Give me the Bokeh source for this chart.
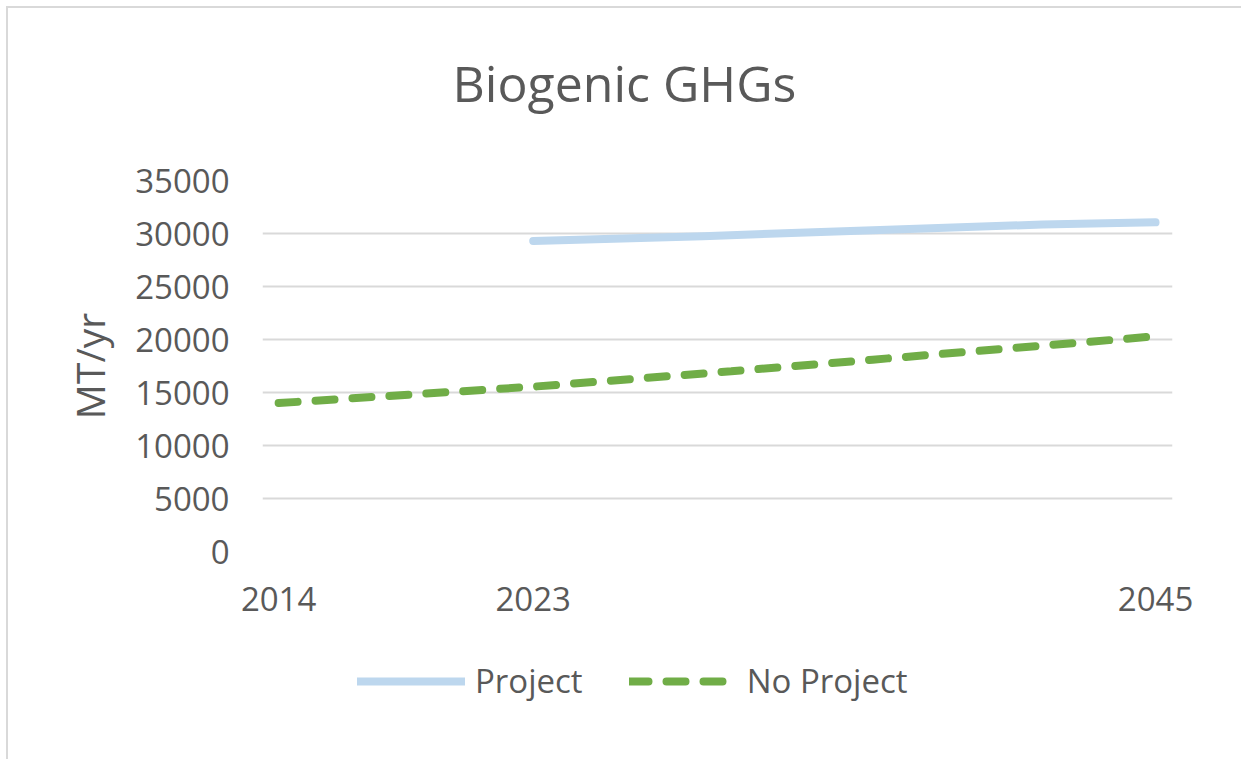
from bokeh.plotting import figure
from bokeh.models import FixedTicker, Legend, LegendItem, Range1d, Div
from bokeh.layouts import column
from bokeh.embed import file_html
from bokeh.resources import INLINE

# data
project_years = [2023, 2029, 2035, 2041, 2045]
project_vals = [29300, 29750, 30300, 30850, 31050]
noproj_years = [2014, 2023, 2030, 2035, 2040, 2045]
noproj_vals = [14000, 15550, 17000, 18100, 19200, 20300]
x_ticks = [2014, 2023, 2045]
y_ticks = [0, 5000, 10000, 15000, 20000, 25000, 30000, 35000]
series_names = ["Project", "No Project"]
chart_title = "Biogenic GHGs"

FONT = "Open Sans"
GREY = "#595959"
BLUE = "#bdd7ee"
GREEN = "#70ad47"
DASH = "19 18"

W = 1233
TITLE_H = 110
MAIN_H = 512
LEG_H = 119

title_div = Div(text=('<div style="font-family:\'Open Sans\';font-size:50px;color:%s;'
                      'text-align:center;line-height:50px;padding-top:45px;width:%dpx;">%s</div>'
                      % (GREY, W - 10, chart_title)),
                width=W - 10, height=TITLE_H)

p = figure(width=W, height=MAIN_H, output_backend="svg", toolbar_location=None,
           x_range=Range1d(2013.43, 2045.6), y_range=Range1d(0, 35000),
           min_border_left=254, min_border_right=69, min_border_top=52, min_border_bottom=89)
p.outline_line_color = None
p.background_fill_color = "white"
p.border_fill_color = "white"

p.xgrid.visible = False
p.ygrid.grid_line_color = "#d9d9d9"
p.ygrid.grid_line_width = 2
p.ygrid.ticker = FixedTicker(ticks=y_ticks)

p.xaxis.ticker = FixedTicker(ticks=x_ticks)
p.yaxis.ticker = FixedTicker(ticks=y_ticks)
for ax in (p.xaxis[0], p.yaxis[0]):
    ax.axis_line_color = None
    ax.major_tick_line_color = None
    ax.minor_tick_line_color = None
    ax.major_tick_in = 0
    ax.major_tick_out = 0
    ax.major_label_text_font = FONT
    ax.major_label_text_font_size = "33px"
    ax.major_label_text_color = GREY
p.xaxis.major_label_standoff = 35
p.yaxis.major_label_standoff = 33
p.yaxis.axis_label = "MT/yr"
p.yaxis.axis_label_text_font = FONT
p.yaxis.axis_label_text_font_size = "39px"
p.yaxis.axis_label_text_font_style = "normal"
p.yaxis.axis_label_text_color = GREY
p.yaxis.axis_label_standoff = 16

p.line(project_years, project_vals, line_color=BLUE, line_width=8,
       line_cap="round", line_join="round")
p.line(noproj_years, noproj_vals, line_color=GREEN, line_width=8,
       line_cap="round", line_dash=DASH)

# legend strip below the chart (its frame is aligned with the chart's frame)
lf = figure(width=W, height=LEG_H, output_backend="svg", toolbar_location=None,
            x_range=Range1d(0, 1), y_range=Range1d(0, 1),
            min_border_left=0, min_border_right=0, min_border_top=0, min_border_bottom=0)
lf.axis.visible = False
lf.grid.visible = False
lf.outline_line_color = None
lf.background_fill_color = "white"
lf.border_fill_color = "white"
# key-only renderers, placed outside the visible range
k1 = lf.line(x=[2, 3], y=[2, 2], line_color=BLUE, line_width=8, line_cap="round")
k2 = lf.line(x=[2, 3], y=[2, 2], line_color=GREEN, line_width=8, line_cap="round", line_dash=DASH)
legend = Legend(items=[LegendItem(label=series_names[0], renderers=[k1]),
                       LegendItem(label=series_names[1], renderers=[k2])],
                orientation="horizontal", location=(95, 56),
                glyph_width=108, glyph_height=20, label_text_font=FONT,
                label_text_font_size="33px", label_text_color=GREY,
                border_line_color=None, background_fill_alpha=0,
                spacing=46, label_standoff=10, margin=0, padding=0)
lf.add_layout(legend)

layout = column(title_div, p, lf, spacing=0,
                styles={"border-top": "2px solid #d9d9d9", "border-left": "2px solid #d9d9d9",
                        "margin-left": "6px", "margin-top": "6px"})
open("out.html", "w").write(file_html(layout, INLINE))
